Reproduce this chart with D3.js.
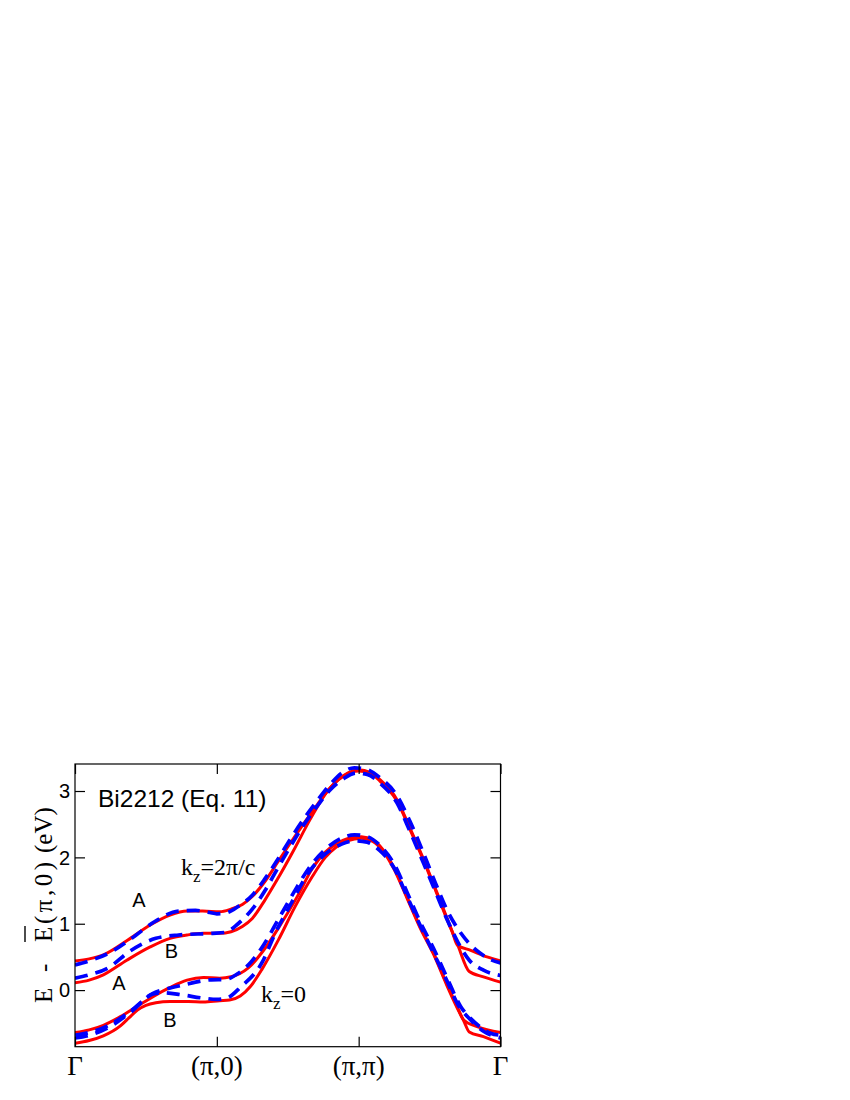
<!DOCTYPE html>
<html>
<head>
<meta charset="utf-8">
<script src="https://cdn.jsdelivr.net/npm/d3@7"></script>
<style>
  body { margin: 0; background: #fff; }
  svg text.sans { font-family: "Liberation Sans", Arial, sans-serif; }
  svg text.serif { font-family: "Liberation Serif", "Times New Roman", serif; }
</style>
</head>
<body>
<div id="display"></div>
<script>
// k path positions and labels
const kTicks = [0, 1, 2, 3];
const kLabels = ["Γ", "(π,0)", "(π,π)", "Γ"];
const eTicks = [0, 1, 2, 3];

// kz = 2pi/c set (upper)  [k, E]
const redUpperA = [[0,0.44],[0.1,0.47],[0.2,0.53],[0.37,0.75],[0.53,0.98],[0.67,1.13],[0.79,1.19],[0.9,1.19],[1.02,1.18],[1.1,1.22],[1.18,1.29],[1.25,1.41],[1.34,1.64],[1.43,1.93],[1.52,2.22],[1.61,2.50],[1.71,2.80],[1.80,3.05],[1.90,3.24],[2.0,3.32],[2.08,3.28],[2.15,3.17],[2.27,2.87],[2.36,2.45],[2.46,1.96],[2.55,1.48],[2.62,1.10],[2.66,0.88],[2.695,0.68],[2.79,0.60],[2.905,0.50],[3.0,0.44]];
const redUpperB = [[0,0.11],[0.1,0.15],[0.2,0.23],[0.365,0.45],[0.53,0.65],[0.67,0.78],[0.79,0.83],[0.905,0.855],[1.02,0.855],[1.1,0.88],[1.18,0.96],[1.25,1.08],[1.34,1.36],[1.43,1.68],[1.54,2.10],[1.66,2.58],[1.78,3.0],[1.89,3.22],[2.0,3.30],[2.08,3.27],[2.15,3.15],[2.27,2.85],[2.36,2.43],[2.46,1.94],[2.55,1.46],[2.62,1.08],[2.695,0.70],[2.78,0.28],[2.88,0.20],[3.0,0.12]];
const blueUpperA = [[0,0.38],[0.1,0.44],[0.25,0.57],[0.40,0.78],[0.56,1.03],[0.73,1.19],[0.85,1.2],[0.95,1.17],[1.0,1.15],[1.06,1.16],[1.15,1.26],[1.25,1.43],[1.34,1.68],[1.43,1.97],[1.52,2.28],[1.61,2.57],[1.71,2.86],[1.80,3.10],[1.88,3.27],[1.97,3.35],[2.05,3.33],[2.15,3.2],[2.27,2.93],[2.36,2.55],[2.45,2.1],[2.54,1.62],[2.62,1.22],[2.72,0.86],[2.79,0.68],[2.86,0.55],[2.93,0.46],[3.0,0.41]];
const blueUpperB = [[0,0.18],[0.1,0.23],[0.23,0.33],[0.39,0.59],[0.57,0.78],[0.73,0.83],[0.97,0.855],[1.06,0.87],[1.15,1.0],[1.25,1.22],[1.34,1.5],[1.43,1.84],[1.52,2.17],[1.61,2.48],[1.71,2.78],[1.80,3.02],[1.89,3.18],[1.98,3.27],[2.06,3.25],[2.15,3.12],[2.27,2.82],[2.36,2.40],[2.46,1.90],[2.55,1.44],[2.62,1.08],[2.70,0.72],[2.78,0.45],[2.88,0.30],[3.0,0.22]];

// kz = 0 set (lower)
const redLowerA = [[0,-0.64],[0.1,-0.60],[0.2,-0.53],[0.32,-0.40],[0.435,-0.25],[0.55,-0.10],[0.67,0.04],[0.79,0.15],[0.905,0.19],[1.02,0.18],[1.1,0.2],[1.22,0.33],[1.33,0.60],[1.45,0.99],[1.57,1.42],[1.67,1.82],[1.765,2.08],[1.84,2.2],[1.92,2.28],[2.02,2.31],[2.1,2.26],[2.17,2.12],[2.25,1.84],[2.34,1.41],[2.435,0.95],[2.53,0.55],[2.62,0.10],[2.695,-0.25],[2.74,-0.45],[2.835,-0.55],[3.0,-0.64]];
const redLowerB = [[0,-0.80],[0.1,-0.76],[0.2,-0.69],[0.32,-0.54],[0.38,-0.42],[0.44,-0.30],[0.5,-0.23],[0.57,-0.19],[0.67,-0.17],[0.8,-0.17],[0.905,-0.18],[1.02,-0.16],[1.09,-0.15],[1.165,-0.09],[1.235,0.05],[1.32,0.32],[1.435,0.76],[1.55,1.25],[1.67,1.70],[1.765,2.0],[1.84,2.15],[1.92,2.25],[2.02,2.29],[2.1,2.24],[2.17,2.10],[2.25,1.82],[2.34,1.39],[2.435,0.93],[2.53,0.53],[2.62,0.08],[2.695,-0.27],[2.74,-0.46],[2.78,-0.63],[2.88,-0.70],[3.0,-0.80]];
const blueLowerA = [[0,-0.68],[0.1,-0.64],[0.23,-0.54],[0.395,-0.31],[0.55,-0.05],[0.65,0.02],[0.75,0.07],[0.96,0.155],[1.06,0.16],[1.15,0.25],[1.24,0.42],[1.33,0.68],[1.44,1.09],[1.545,1.48],[1.65,1.84],[1.77,2.13],[1.87,2.28],[1.97,2.34],[2.05,2.32],[2.15,2.18],[2.25,1.9],[2.34,1.48],[2.435,1.02],[2.53,0.62],[2.62,0.20],[2.72,-0.25],[2.79,-0.43],[2.86,-0.56],[2.93,-0.65],[3.0,-0.68]];
const blueLowerB = [[0,-0.72],[0.1,-0.68],[0.23,-0.57],[0.395,-0.33],[0.55,-0.06],[0.62,-0.04],[0.75,-0.07],[0.9,-0.12],[1.0,-0.14],[1.07,-0.12],[1.17,0.05],[1.32,0.42],[1.41,0.85],[1.53,1.33],[1.65,1.78],[1.77,2.06],[1.88,2.2],[1.98,2.25],[2.06,2.23],[2.15,2.10],[2.25,1.84],[2.34,1.42],[2.435,0.97],[2.53,0.55],[2.62,0.15],[2.70,-0.22],[2.79,-0.45],[2.88,-0.62],[3.0,-0.72]];

// band labels [k, E, text]
const bandLabels = [[0.45, 1.25, "A"], [0.68, 0.48, "B"], [0.31, 0.0, "A"], [0.67, -0.55, "B"]];

const width = 850, height = 1100;
const margin = {left: 75, right: 349.5, top: 764, bottom: 53.3};

const svg = d3.select("#display").append("svg")
    .attr("width", width)
    .attr("height", height);

const x = d3.scaleLinear()
    .domain([0, 3])
    .range([margin.left, width - margin.right]);

const y = d3.scaleLinear()
    .domain([-0.853, 3.407])
    .range([height - margin.bottom, margin.top]);

svg.append("defs").append("clipPath").attr("id", "plotclip")
  .append("rect")
    .attr("x", x(0)).attr("y", y(3.407))
    .attr("width", x(3) - x(0)).attr("height", y(-0.853) - y(3.407));

const line = d3.line()
    .x(d => x(d[0]))
    .y(d => y(d[1]))
    .curve(d3.curveMonotoneX);

const curves = svg.append("g").attr("clip-path", "url(#plotclip)");

[redUpperA, redUpperB, redLowerA, redLowerB].forEach(function (data) {
  curves.append("path")
      .attr("d", line(data))
      .attr("fill", "none")
      .attr("stroke", "#ff0000")
      .attr("stroke-width", 3);
});
[blueUpperA, blueUpperB, blueLowerA, blueLowerB].forEach(function (data) {
  curves.append("path")
      .attr("d", line(data))
      .attr("fill", "none")
      .attr("stroke", "#0000ff")
      .attr("stroke-width", 3.7)
      .attr("stroke-dasharray", "13,8");
});

// axes: ticks point inward on all four sides
const xAxisB = g => g
    .attr("transform", `translate(0,${y(-0.853)})`)
    .call(d3.axisTop(x).tickValues(kTicks).tickSize(10).tickFormat(""));
const xAxisT = g => g
    .attr("transform", `translate(0,${y(3.407)})`)
    .call(d3.axisBottom(x).tickValues(kTicks).tickSize(10).tickFormat(""));
const yAxisL = g => g
    .attr("transform", `translate(${x(0)},0)`)
    .call(d3.axisRight(y).tickValues(eTicks).tickSize(10).tickFormat(""));
const yAxisR = g => g
    .attr("transform", `translate(${x(3)},0)`)
    .call(d3.axisLeft(y).tickValues(eTicks).tickSize(10).tickFormat(""));

[xAxisB, xAxisT, yAxisL, yAxisR].forEach(function (ax) {
  const g = svg.append("g").call(ax);
  g.selectAll("line").attr("stroke", "#000").attr("stroke-width", 1.2);
  g.select(".domain").remove();
});

svg.append("rect")
    .attr("x", x(0)).attr("y", y(3.407))
    .attr("width", x(3) - x(0)).attr("height", y(-0.853) - y(3.407))
    .attr("fill", "none")
    .attr("stroke", "#000")
    .attr("stroke-width", 1.2);

// tick labels
svg.append("g").selectAll("text")
  .data(eTicks)
  .join("text")
    .attr("class", "sans")
    .attr("x", x(0) - 5)
    .attr("y", d => y(d))
    .attr("dy", "0.36em")
    .attr("text-anchor", "end")
    .style("font-size", "20px")
    .text(d => d);

svg.append("g").selectAll("text")
  .data(kTicks)
  .join("text")
    .attr("class", "serif")
    .attr("x", d => x(d))
    .attr("y", 1075)
    .attr("text-anchor", "middle")
    .style("font-size", "27px")
    .text((d, i) => kLabels[i]);

// y axis title (rotated), overline on the second E
const titleParts = [[0, "E"], [31, "-"], [61, "E"], [79, "(π,0)"], [150, "(eV)"]];
const ytitle = svg.append("g")
    .attr("transform", "translate(52,1003) rotate(-90)");
const yt = ytitle.append("text")
    .attr("class", "serif")
    .style("font-size", "25px");
yt.selectAll("tspan")
  .data(titleParts)
  .join("tspan")
    .attr("x", d => d[0])
    .attr("y", 0)
    .style("letter-spacing", (d, i) => i === 3 ? "3.5px" : "0px")
    .text(d => d[1]);
ytitle.append("line")
    .attr("x1", 61).attr("x2", 77)
    .attr("y1", -27).attr("y2", -27)
    .attr("stroke", "#000").attr("stroke-width", 1.4);

// annotations
svg.append("text")
    .attr("class", "sans")
    .attr("x", 98)
    .attr("y", 807)
    .style("font-size", "24.5px")
    .text("Bi2212 (Eq. 11)");

svg.append("g").selectAll("text")
  .data(bandLabels)
  .join("text")
    .attr("class", "sans")
    .attr("x", d => x(d[0]))
    .attr("y", d => y(d[1]))
    .attr("text-anchor", "middle")
    .style("font-size", "20px")
    .text(d => d[2]);

const kz1 = svg.append("text")
    .attr("class", "serif")
    .attr("x", 181)
    .attr("y", 875)
    .style("font-size", "24px");
kz1.append("tspan").text("k");
kz1.append("tspan").attr("dy", 7).style("font-size", "17px").text("z");
kz1.append("tspan").attr("dy", -7).text("=2π/c");

const kz0 = svg.append("text")
    .attr("class", "serif")
    .attr("x", 261)
    .attr("y", 1002)
    .style("font-size", "24px");
kz0.append("tspan").text("k");
kz0.append("tspan").attr("dy", 7).style("font-size", "17px").text("z");
kz0.append("tspan").attr("dy", -7).text("=0");
</script>
</body>
</html>
